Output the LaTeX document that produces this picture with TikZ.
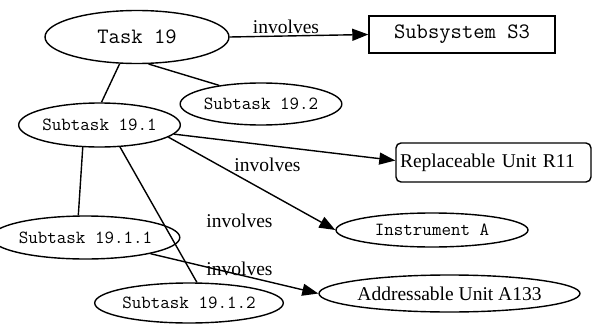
\documentclass[tikz,border=0pt]{standalone}
\usepackage{fontspec}
\setmainfont{Liberation Serif}
\usetikzlibrary{shapes.geometric,arrows.meta}
\begin{document}
\begin{tikzpicture}[x=1pt,y=-1pt, line width=1.4pt,
  el/.style={draw, ellipse, inner sep=0pt, font=\ttfamily\fontsize{18.5}{18.5}\selectfont},
  bigel/.style={el, font=\ttfamily\fontsize{22}{22}\selectfont},
  serel/.style={draw, ellipse, inner sep=0pt, font=\fontsize{19.5}{19.5}\selectfont},
  box/.style={draw, rectangle, inner sep=0pt},
  lbl/.style={anchor=base, inner sep=0pt, font=\fontsize{19.5}{19.5}\selectfont},
  arr/.style={-{Triangle[length=16pt,width=12pt]}},
  ln/.style={-}]
\useasboundingbox (0,0) rectangle (592,324);

\node[bigel, minimum width=184pt, minimum height=53pt] (t19) at (137,37) {Task 19};
\node[box, minimum width=186pt, minimum height=37pt, font=\ttfamily\fontsize{22}{22}\selectfont] (s3) at (462,34.5) {Subsystem S3};
\node[el, minimum width=159pt, minimum height=42pt] (s192) at (261,104) {Subtask 19.2};
\node[el, minimum width=155pt, minimum height=44pt] (s191) at (99.5,125) {Subtask 19.1};
\node[box, rounded corners=5pt, minimum width=195pt, minimum height=39pt, text width=187pt, inner xsep=4pt, align=left, font=\fontsize{19.5}{19.5}\selectfont] (r11) at (493.5,162.5) {Replaceable Unit R11};
\node[el, minimum width=192pt, minimum height=34pt] (ia) at (432,230) {Instrument A};
\node[serel, minimum width=261pt, minimum height=37pt] (a133) at (449.5,293.5) {Addressable Unit A133};
\node[el, minimum width=157pt, minimum height=43pt] (s1911) at (85.5,237.5) {Subtask 19.1.1};
\node[el, minimum width=156pt, minimum height=40pt] (s1912) at (189,303) {Subtask 19.1.2};

\draw[arr] (t19.east) -- (s3.west);
\draw[ln] (t19.-123) -- (s191.85);
\draw[ln] (t19.-67) -- (s192.156);
\draw[arr] (s191.-7) -- ([yshift=2pt]r11.west);
\draw[arr] (s191.-10) -- (ia.west);
\draw[ln] (s191.-127) -- (s1911.108);
\draw[ln] (s191.-47) -- (s1912.69);
\draw[arr] (s1911.-14) -- (a133.west);

\node[lbl] (l1) at (286,33) {involves};
\node[lbl] (l2) at (267.5,171) {involves};
\node[lbl] (l3) at (239.5,227) {involves};
\node[lbl] (l4) at (239.5,275) {involves};
\end{tikzpicture}
\end{document}
